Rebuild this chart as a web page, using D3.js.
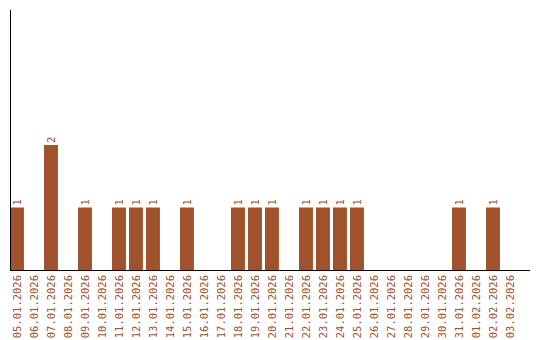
<!DOCTYPE html>
<html>
<head>
<meta charset="utf-8">
<script src="https://d3js.org/d3.v7.min.js"></script>
<style>
  body { margin: 0; background: #fff; }
  svg text { font-family: "DejaVu Sans Mono", monospace; font-size: 10.5px; fill: #a0522d; }
</style>
</head>
<body>
<div id="chart"></div>
<script>
// dates and counts
var dates = ["05.01.2026","06.01.2026","07.01.2026","08.01.2026","09.01.2026","10.01.2026",
  "11.01.2026","12.01.2026","13.01.2026","14.01.2026","15.01.2026","16.01.2026","17.01.2026",
  "18.01.2026","19.01.2026","20.01.2026","21.01.2026","22.01.2026","23.01.2026","24.01.2026",
  "25.01.2026","26.01.2026","27.01.2026","28.01.2026","29.01.2026","30.01.2026","31.01.2026",
  "01.02.2026","02.02.2026","03.02.2026"];
var counts = [1,0,2,0,1,0,1,1,1,0,1,0,0,1,1,1,0,1,1,1,1,0,0,0,0,0,1,0,1,0];
var yMax = 4.16;

var width = 540, height = 340;
var margin = {top: 10, right: 10, bottom: 70, left: 10};

var svg = d3.select("#chart").append("svg")
    .attr("width", width)
    .attr("height", height);

// step of 17px, bars flush with the left of each step
var x = d3.scaleBand()
    .domain(dates)
    .range([margin.left, margin.left + dates.length * 17])
    .paddingInner(0.18)
    .paddingOuter(0.09)
    .align(0);

var y = d3.scaleLinear()
    .domain([0, yMax])
    .range([height - margin.bottom, margin.top]);

var data = dates.map(function(d, i) { return {date: d, n: counts[i]}; });
var bw = x.bandwidth();

// bars
svg.selectAll("rect.bar")
    .data(data.filter(function(d) { return d.n > 0; }))
    .enter().append("rect")
    .attr("class", "bar")
    .attr("x", function(d) { return x(d.date); })
    .attr("width", bw)
    .attr("y", function(d) { return y(d.n); })
    .attr("height", function(d) { return y(0) - y(d.n); })
    .attr("fill", "#a0522d");

// value labels
svg.selectAll("text.val")
    .data(data.filter(function(d) { return d.n > 0; }))
    .enter().append("text")
    .attr("class", "val")
    .attr("transform", function(d) {
      return "translate(" + (x(d.date) + bw / 2 + 4) + "," + (y(d.n) - 2) + ") rotate(-90)";
    })
    .attr("text-anchor", "start")
    .text(function(d) { return d.n; });

// date labels
svg.selectAll("text.date")
    .data(dates)
    .enter().append("text")
    .attr("class", "date")
    .attr("transform", function(d) {
      return "translate(" + (x(d) + bw / 2 + 4) + "," + (y(0) + 5) + ") rotate(-90)";
    })
    .attr("text-anchor", "end")
    .text(function(d) { return d; });

// axes lines
svg.append("line")
    .attr("x1", margin.left + 0.5).attr("x2", margin.left + 0.5)
    .attr("y1", margin.top).attr("y2", y(0))
    .attr("stroke", "#000");
svg.append("line")
    .attr("x1", margin.left).attr("x2", width - margin.right)
    .attr("y1", y(0) + 0.5).attr("y2", y(0) + 0.5)
    .attr("stroke", "#000");
</script>
</body>
</html>
